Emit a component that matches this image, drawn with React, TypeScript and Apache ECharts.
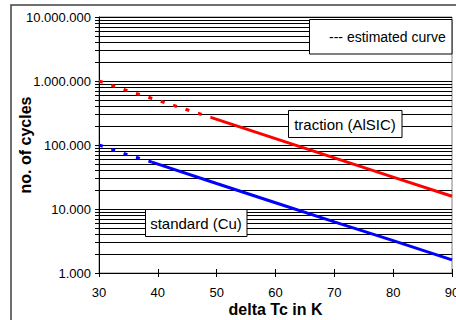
import React, { useEffect, useRef } from "react";
import * as echarts from "echarts";

const X_MIN = 30;
const X_MAX = 90;
const xTickStep = 10;
const Y_MIN = 1000;
const Y_MAX = 10000000;

// minor (2..9 per decade) horizontal grid values on the log axis
const yMinorValues = [
  2000, 3000, 4000, 5000, 6000, 7000, 8000, 9000,
  20000, 30000, 40000, 50000, 60000, 70000, 80000, 90000,
  200000, 300000, 400000, 500000, 600000, 700000, 800000, 900000,
  2000000, 3000000, 4000000, 5000000, 6000000, 7000000, 8000000, 9000000,
];

// traction (AlSIC): estimated (dashed) and measured (solid)
const tractionEstimated = [
  [30, 1000000],
  [35, 700000],
  [40, 500000],
  [49, 270000],
];
const tractionMeasured = [
  [49, 270000],
  [60, 126000],
  [70, 63000],
  [80, 31500],
  [90, 15800],
];

// standard (Cu): estimated (dashed) and measured (solid)
const standardEstimated = [
  [30, 100000],
  [35, 70000],
  [39, 54000],
];
const standardMeasured = [
  [39, 54000],
  [50, 25000],
  [60, 12500],
  [70, 6300],
  [80, 3200],
  [90, 1600],
];

const FONT = "'Liberation Sans', Arial, sans-serif";

function fmtDots(v: number): string {
  return String(Math.round(v)).replace(/\B(?=(\d{3})+(?!\d))/g, ".");
}

export default function App() {
  const ref = useRef<HTMLDivElement>(null);

  useEffect(() => {
    if (!ref.current) return;
    const chart = echarts.init(ref.current, null, { renderer: "svg" });

    const option: any = {
      animation: false,
      backgroundColor: "#ffffff",
      grid: {
        left: 99,
        right: 4,
        top: 17,
        bottom: 47,
        containLabel: false,
        outerBoundsMode: "none",
        show: true,
        borderColor: "#808080",
        borderWidth: 1,
        backgroundColor: "transparent",
      },
      xAxis: [
        {
          type: "value",
          min: X_MIN,
          max: X_MAX,
          interval: xTickStep,
          name: "delta Tc in K",
          nameLocation: "middle",
          nameGap: 28,
          nameMoveOverlap: false,
          nameTextStyle: {
            fontFamily: FONT,
            fontSize: 16,
            fontWeight: "bold",
            color: "#000",
          },
          axisLine: { show: true, lineStyle: { color: "#000", width: 1 } },
          axisTick: { show: true, inside: false, length: 4, lineStyle: { color: "#000" } },
          axisLabel: {
            fontFamily: FONT,
            fontSize: 13,
            color: "#000",
            margin: 13,
          },
          splitLine: { show: false },
        },
        {
          type: "value",
          min: X_MIN,
          max: X_MAX,
          interval: xTickStep,
          position: "bottom",
          axisLine: { show: false },
          axisTick: { show: true, inside: true, length: 4, lineStyle: { color: "#000" } },
          axisLabel: { show: false },
          splitLine: { show: false },
        },
      ],
      yAxis: [
        {
          type: "log",
          logBase: 10,
          min: Y_MIN,
          max: Y_MAX,
          name: "no. of cycles",
          nameLocation: "middle",
          nameGap: 66,
          nameMoveOverlap: false,
          nameTextStyle: {
            fontFamily: FONT,
            fontSize: 16,
            fontWeight: "bold",
            color: "#000",
          },
          axisLine: { show: true, lineStyle: { color: "#000", width: 1 } },
          axisTick: { show: true, inside: false, length: 4, lineStyle: { color: "#000" } },
          axisLabel: {
            fontFamily: FONT,
            fontSize: 13,
            color: "#000",
            margin: 8,
            formatter: (v: number) => fmtDots(v),
          },
          splitLine: { show: true, lineStyle: { color: "#000", width: 1 } },
        },
        {
          type: "log",
          logBase: 10,
          min: Y_MIN,
          max: Y_MAX,
          position: "left",
          axisLine: { show: false },
          axisTick: { show: true, inside: true, length: 4, lineStyle: { color: "#000" } },
          axisLabel: { show: false },
          splitLine: { show: false },
        },
      ],
      series: [
        {
          type: "custom",
          name: "minorGrid",
          xAxisIndex: 0,
          yAxisIndex: 0,
          silent: true,
          z: 1,
          encode: { x: 0, y: 1 },
          data: yMinorValues.map((v) => [X_MIN, v]),
          renderItem: (_params: any, api: any) => {
            const v = api.value(1);
            const l = api.coord([X_MIN, v]);
            const r = api.coord([X_MAX, v]);
            const y = Math.round(l[1]) + 0.5;
            return {
              type: "group",
              children: [
                {
                  type: "line",
                  shape: { x1: l[0], y1: y, x2: r[0], y2: y },
                  style: { stroke: "#000", lineWidth: 1 },
                },
                {
                  type: "line",
                  shape: { x1: l[0] - 4, y1: y, x2: l[0], y2: y },
                  style: { stroke: "#000", lineWidth: 1 },
                },
              ],
            };
          },
        },
        {
          type: "line",
          name: "traction estimated",
          data: tractionEstimated,
          symbol: "none",
          showSymbol: false,
          z: 5,
          lineStyle: { color: "#ff0000", width: 3, type: [4, 9], cap: "butt" },
        },
        {
          type: "line",
          name: "traction (AlSIC)",
          data: tractionMeasured,
          symbol: "none",
          showSymbol: false,
          z: 5,
          lineStyle: { color: "#ff0000", width: 3, type: "solid" },
        },
        {
          type: "line",
          name: "standard estimated",
          data: standardEstimated,
          symbol: "none",
          showSymbol: false,
          z: 5,
          lineStyle: { color: "#0000ff", width: 3, type: [4, 9], cap: "butt" },
        },
        {
          type: "line",
          name: "standard (Cu)",
          data: standardMeasured,
          symbol: "none",
          showSymbol: false,
          z: 5,
          lineStyle: { color: "#0000ff", width: 3, type: "solid" },
        },
      ],
      graphic: [
        {
          type: "rect",
          silent: true,
          z: 100,
          shape: { x: 11, y: 5, width: 480, height: 340 },
          style: { fill: "none", stroke: "#404040", lineWidth: 1.5 },
        },
        {
          type: "rect",
          z: 100,
          shape: { x: 309.5, y: 19.5, width: 142.5, height: 34.5 },
          style: { fill: "#fff", stroke: "#000", lineWidth: 1 },
        },
        {
          type: "text",
          z: 101,
          x: 329,
          y: 37,
          style: {
            text: "--- estimated curve",
            font: `14px ${FONT}`,
            fill: "#000",
            textAlign: "left",
            textVerticalAlign: "middle",
          },
        },
        {
          type: "rect",
          z: 100,
          shape: { x: 288.5, y: 110.5, width: 113.5, height: 27 },
          style: { fill: "#fff", stroke: "#000", lineWidth: 1 },
        },
        {
          type: "text",
          z: 101,
          x: 345,
          y: 124,
          style: {
            text: "traction (AlSIC)",
            font: `15px ${FONT}`,
            fill: "#000",
            textAlign: "center",
            textVerticalAlign: "middle",
          },
        },
        {
          type: "rect",
          z: 100,
          shape: { x: 145.5, y: 209.5, width: 101.5, height: 27 },
          style: { fill: "#fff", stroke: "#000", lineWidth: 1 },
        },
        {
          type: "text",
          z: 101,
          x: 196,
          y: 223,
          style: {
            text: "standard (Cu)",
            font: `15px ${FONT}`,
            fill: "#000",
            textAlign: "center",
            textVerticalAlign: "middle",
          },
        },
      ],
    };

    chart.setOption(option);
    return () => {
      chart.dispose();
    };
  }, []);

  return (
    <div
      ref={ref}
      style={{ position: "absolute", left: 0, top: 0, width: 456, height: 320 }}
    />
  );
}
